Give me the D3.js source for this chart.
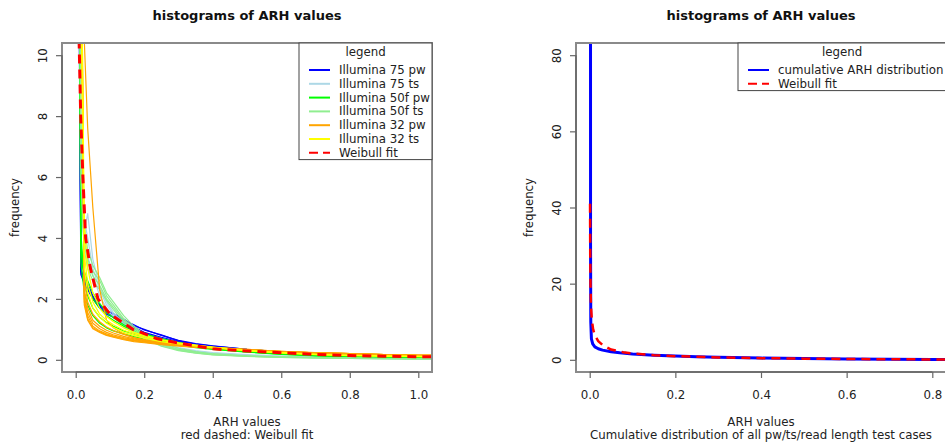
<!DOCTYPE html>
<html>
<head>
<meta charset="utf-8">
<script src="https://cdn.jsdelivr.net/npm/d3@7"></script>
<style>
  body { margin: 0; background: #fff; }
  svg { display: block; font-family: 'DejaVu Sans', sans-serif; }
</style>
</head>
<body>
<svg></svg>
<script>
'use strict';

const svgWidth = 945;
const svgHeight = 446;

// ---- data ----
// shared x positions (bin mids) for the histogram curves, left panel
const binX = [0.005, 0.015, 0.025, 0.035, 0.05, 0.07, 0.09, 0.11, 0.14, 0.17, 0.2,
  0.25, 0.3, 0.35, 0.4, 0.5, 0.6, 0.7, 0.8, 0.9, 1.0, 1.06];

const illumina75pw = [
  [24, 3.0, 2.6, 2.4, 2.05, 1.8, 1.6, 1.5, 1.3, 1.15, 0.98, 0.82, 0.62, 0.52, 0.45, 0.34, 0.26, 0.2, 0.16, 0.13, 0.11, 0.1],
  [20, 2.8, 2.5, 2.3, 2.0, 1.7, 1.5, 1.4, 1.22, 1.08, 0.9, 0.74, 0.6, 0.5, 0.42, 0.32, 0.24, 0.18, 0.14, 0.12, 0.1, 0.09],
  [26, 3.4, 2.8, 2.5, 2.1, 1.75, 1.55, 1.42, 1.2, 1.02, 0.88, 0.7, 0.57, 0.47, 0.4, 0.3, 0.22, 0.17, 0.13, 0.11, 0.09, 0.08],
  [22, 2.9, 2.55, 2.35, 2.02, 1.78, 1.62, 1.52, 1.34, 1.12, 1.0, 0.8, 0.64, 0.53, 0.46, 0.34, 0.26, 0.2, 0.16, 0.13, 0.11, 0.1]
];
const illumina75ts = [
  [22, 6.5, 4.6, 4.0, 3.0, 2.3, 1.8, 1.5, 1.15, 0.9, 0.72, 0.5, 0.36, 0.28, 0.22, 0.15, 0.11, 0.08, 0.06, 0.05, 0.04, 0.04],
  [25, 5.5, 4.2, 4.8, 3.3, 2.4, 1.9, 1.55, 1.2, 0.95, 0.78, 0.55, 0.4, 0.3, 0.24, 0.17, 0.12, 0.09, 0.07, 0.05, 0.05, 0.04],
  [18, 5.0, 3.8, 3.4, 2.8, 2.1, 1.7, 1.4, 1.1, 0.85, 0.68, 0.46, 0.33, 0.26, 0.2, 0.14, 0.1, 0.07, 0.05, 0.04, 0.04, 0.03]
];
const illumina50fpw = [
  [30, 3.6, 2.7, 2.4, 2.0, 1.7, 1.45, 1.3, 1.1, 0.95, 0.82, 0.66, 0.55, 0.46, 0.38, 0.28, 0.2, 0.15, 0.12, 0.1, 0.08, 0.07],
  [28, 4.2, 2.5, 2.1, 1.7, 1.4, 1.22, 1.1, 0.95, 0.85, 0.75, 0.62, 0.52, 0.43, 0.36, 0.26, 0.19, 0.14, 0.11, 0.09, 0.07, 0.06],
  [32, 3.2, 2.2, 1.8, 1.45, 1.2, 1.05, 0.95, 0.85, 0.76, 0.68, 0.58, 0.48, 0.4, 0.34, 0.25, 0.18, 0.13, 0.1, 0.08, 0.06, 0.05],
  [29, 3.8, 2.9, 2.6, 2.2, 1.85, 1.55, 1.38, 1.15, 1.0, 0.86, 0.7, 0.57, 0.47, 0.39, 0.29, 0.21, 0.16, 0.12, 0.1, 0.08, 0.07]
];
const illumina50fts = [
  [30, 7.0, 4.0, 3.3, 2.9, 2.6, 2.1, 1.8, 1.35, 1.05, 0.8, 0.52, 0.34, 0.25, 0.18, 0.12, 0.09, 0.07, 0.05, 0.04, 0.03, 0.03],
  [26, 6.0, 3.6, 3.0, 2.6, 2.3, 1.95, 1.65, 1.25, 0.95, 0.7, 0.45, 0.3, 0.22, 0.16, 0.11, 0.08, 0.06, 0.05, 0.04, 0.03, 0.03],
  [34, 8.0, 4.4, 3.6, 3.1, 2.7, 2.2, 1.9, 1.45, 1.1, 0.85, 0.56, 0.38, 0.27, 0.2, 0.13, 0.1, 0.07, 0.06, 0.05, 0.04, 0.03],
  [28, 6.5, 3.8, 3.2, 2.75, 2.45, 2.0, 1.72, 1.3, 1.0, 0.75, 0.5, 0.32, 0.23, 0.17, 0.12, 0.08, 0.06, 0.05, 0.04, 0.03, 0.03]
];
const illumina32pw = [
  [30, 16, 2.0, 1.45, 1.1, 0.95, 0.85, 0.78, 0.7, 0.64, 0.6, 0.53, 0.48, 0.43, 0.4, 0.33, 0.27, 0.23, 0.2, 0.17, 0.15, 0.14],
  [28, 14, 1.8, 1.3, 1.02, 0.9, 0.8, 0.74, 0.66, 0.6, 0.56, 0.5, 0.45, 0.41, 0.38, 0.32, 0.26, 0.22, 0.19, 0.16, 0.14, 0.13],
  [32, 17, 2.3, 1.7, 1.3, 1.1, 0.97, 0.88, 0.77, 0.69, 0.63, 0.55, 0.49, 0.44, 0.41, 0.34, 0.28, 0.24, 0.2, 0.17, 0.15, 0.14],
  [26, 15, 2.6, 1.9, 1.5, 1.25, 1.08, 0.96, 0.83, 0.73, 0.66, 0.57, 0.5, 0.45, 0.41, 0.34, 0.28, 0.23, 0.2, 0.17, 0.15, 0.14],
  [29, 15, 1.9, 1.35, 1.05, 0.92, 0.82, 0.76, 0.68, 0.62, 0.58, 0.52, 0.47, 0.42, 0.39, 0.33, 0.27, 0.23, 0.2, 0.17, 0.15, 0.14],
  [31, 16, 2.1, 1.55, 1.2, 1.02, 0.9, 0.82, 0.73, 0.66, 0.61, 0.54, 0.48, 0.43, 0.4, 0.33, 0.27, 0.23, 0.2, 0.17, 0.15, 0.14],
  [30, 14, 10.5, 7.6, 5.0, 2.3, 1.3, 1.05, 0.85, 0.72, 0.64, 0.55, 0.49, 0.44, 0.4, 0.33, 0.27, 0.23, 0.2, 0.17, 0.15, 0.14]
];
const illumina32ts = [
  [30, 14, 3.5, 2.5, 1.9, 1.5, 1.3, 1.15, 0.97, 0.85, 0.76, 0.64, 0.55, 0.48, 0.41, 0.3, 0.23, 0.18, 0.15, 0.12, 0.11, 0.1],
  [28, 15, 4.5, 3.0, 2.2, 1.7, 1.42, 1.25, 1.05, 0.9, 0.8, 0.66, 0.56, 0.48, 0.42, 0.31, 0.24, 0.18, 0.15, 0.13, 0.11, 0.1],
  [32, 13, 3.0, 2.2, 1.7, 1.4, 1.2, 1.06, 0.9, 0.8, 0.71, 0.6, 0.52, 0.46, 0.4, 0.3, 0.23, 0.17, 0.14, 0.12, 0.1, 0.09]
];

// red dashed weibull fit, left panel
const weibullX = [0.008, 0.0146, 0.021, 0.029, 0.043, 0.065, 0.1, 0.167, 0.236, 0.3, 0.4, 0.5, 0.6, 0.7, 0.8, 0.9, 1.0, 1.06];
const weibullY = [11.5, 8, 6, 4, 3, 2, 1.5, 1.0, 0.7, 0.55, 0.36, 0.29, 0.23, 0.18, 0.14, 0.12, 0.1, 0.095];

// right panel
const cumX = [0.0015, 0.002, 0.0025, 0.004, 0.007, 0.012, 0.02, 0.03, 0.05, 0.07, 0.1, 0.15, 0.2, 0.25,
  0.3, 0.4, 0.5, 0.6, 0.7, 0.8, 0.85];
const cumY = [300, 30, 10, 5.5, 4.2, 3.4, 2.9, 2.55, 2.1, 1.84, 1.55, 1.23, 1.0, 0.8,
  0.65, 0.45, 0.32, 0.22, 0.15, 0.1, 0.08];
const fitX = [0.0008, 0.0012, 0.002, 0.003, 0.005, 0.008, 0.012, 0.02, 0.031, 0.05, 0.078, 0.1, 0.15, 0.2, 0.3,
  0.4, 0.5, 0.6, 0.7, 0.8, 0.85];
const fitY = [41, 28, 19, 14, 10.5, 8, 6.4, 4.9, 3.8, 2.7, 2.0, 1.65, 1.22, 0.96, 0.63,
  0.44, 0.31, 0.22, 0.15, 0.1, 0.09];

const leftXTicks = [0, 0.2, 0.4, 0.6, 0.8, 1.0];
const leftYTicks = [0, 2, 4, 6, 8, 10];
const rightXTicks = [0, 0.2, 0.4, 0.6, 0.8];
const rightYTicks = [0, 20, 40, 60, 80];

const groups = [
  { name: 'Illumina 75 pw', color: '#0000ff', curves: illumina75pw },
  { name: 'Illumina 75 ts', color: '#add8e6', curves: illumina75ts },
  { name: 'Illumina 50f pw', color: '#00ff00', curves: illumina50fpw },
  { name: 'Illumina 50f ts', color: '#90ee90', curves: illumina50fts },
  { name: 'Illumina 32 pw', color: '#ffa500', curves: illumina32pw },
  { name: 'Illumina 32 ts', color: '#ffff00', curves: illumina32ts }
];

const fontSize = 11.8;

const svg = d3.select('svg')
  .attr('width', svgWidth)
  .attr('height', svgHeight);

const defs = svg.append('defs');

function panel(opts) {
  let { x0, x1, y0, y1, xDomain, yDomain, xTicks, yTicks, id } = opts;

  let x = d3.scaleLinear().domain(xDomain).range([x0, x1]);
  let y = d3.scaleLinear().domain(yDomain).range([y1, y0]);

  defs.append('clipPath')
    .attr('id', id)
    .append('rect')
    .attr('x', x0).attr('y', y0)
    .attr('width', x1 - x0).attr('height', y1 - y0);

  let g = svg.append('g');
  let plotG = g.append('g').attr('clip-path', `url(#${id})`);

  // box
  g.append('rect')
    .attr('x', x0).attr('y', y0)
    .attr('width', x1 - x0).attr('height', y1 - y0)
    .attr('fill', 'none')
    .attr('stroke', '#8a8a8a')
    .attr('stroke-width', 2);

  let xAxis = g.append('g')
    .attr('transform', `translate(0,${y1})`)
    .call(d3.axisBottom(x).tickValues(xTicks).tickFormat(d3.format('.1f')).tickSize(6).tickPadding(13));
  xAxis.select('.domain')
    .attr('d', `M${x(xTicks[0])},0H${x(xTicks[xTicks.length - 1])}`);

  let yAxis = g.append('g')
    .attr('transform', `translate(${x0},0)`)
    .call(d3.axisLeft(y).tickValues(yTicks).tickSize(6));
  yAxis.select('.domain')
    .attr('d', `M0,${y(yTicks[0])}V${y(yTicks[yTicks.length - 1])}`);
  yAxis.selectAll('.tick text')
    .attr('x', -19)
    .attr('dy', null)
    .attr('text-anchor', 'middle')
    .attr('dominant-baseline', 'middle')
    .attr('transform', 'rotate(-90, -19, 0)');

  g.selectAll('.domain').attr('stroke', '#666').attr('stroke-width', 1.5);
  g.selectAll('.tick line').attr('stroke', '#666').attr('stroke-width', 1.2);
  g.selectAll('.tick text')
    .attr('font-family', 'DejaVu Sans, sans-serif')
    .attr('font-size', fontSize)
    .attr('fill', '#222');

  // titles
  let cx = (x0 + x1) / 2;
  g.append('text')
    .attr('x', cx).attr('y', 20)
    .attr('text-anchor', 'middle')
    .attr('font-weight', 'bold')
    .attr('font-size', 13)
    .attr('fill', '#111')
    .text('histograms of ARH values');
  g.append('text')
    .attr('x', cx).attr('y', 425.5)
    .attr('text-anchor', 'middle')
    .attr('font-size', fontSize)
    .attr('fill', '#222')
    .text('ARH values');
  g.append('text')
    .attr('x', cx).attr('y', 439)
    .attr('text-anchor', 'middle')
    .attr('font-size', fontSize)
    .attr('fill', '#222')
    .text(opts.sub);
  g.append('text')
    .attr('transform', `translate(${x0 - 47},${(y0 + y1) / 2}) rotate(-90)`)
    .attr('text-anchor', 'middle')
    .attr('dominant-baseline', 'middle')
    .attr('font-size', fontSize)
    .attr('fill', '#222')
    .text('frequency');

  return { x, y, g, plotG };
}

function drawLegend(g, bx0, bx1, by0, items) {
  let rowH = 13.8;
  let by1 = by0 + 22 + rowH * items.length - 2;
  g.append('rect')
    .attr('x', bx0).attr('y', by0)
    .attr('width', bx1 - bx0).attr('height', by1 - by0)
    .attr('fill', '#fff')
    .attr('stroke', '#444')
    .attr('stroke-width', 1);
  g.append('text')
    .attr('x', (bx0 + bx1) / 2).attr('y', by0 + 13)
    .attr('text-anchor', 'middle')
    .attr('font-size', fontSize)
    .attr('fill', '#222')
    .text('legend');
  items.forEach((it, i) => {
    let ry = by0 + 27 + i * rowH;
    g.append('line')
      .attr('x1', bx0 + 10).attr('x2', bx0 + 31)
      .attr('y1', ry).attr('y2', ry)
      .attr('stroke', it.color)
      .attr('stroke-width', 2)
      .attr('stroke-dasharray', it.dash ? '9,5' : null);
    g.append('text')
      .attr('x', bx0 + 40).attr('y', ry)
      .attr('dominant-baseline', 'central')
      .attr('font-size', fontSize)
      .attr('fill', '#222')
      .text(it.name);
  });
}

// ---- left panel ----
let left = panel({
  id: 'clipL', x0: 62, x1: 432, y0: 43, y1: 372,
  xDomain: [-0.04, 1.04], yDomain: [-0.4, 10.4],
  xTicks: leftXTicks, yTicks: leftYTicks,
  sub: 'red dashed: Weibull fit'
});

let lineL = d3.line()
  .x(d => left.x(d[0]))
  .y(d => left.y(d[1]));

groups.forEach(gr => {
  left.plotG.selectAll(null)
    .data(gr.curves)
    .join('path')
    .attr('d', c => lineL(c.map((v, i) => [binX[i], v])))
    .attr('fill', 'none')
    .attr('stroke', gr.color)
    .attr('stroke-width', 1.2)
    .attr('stroke-linejoin', 'round');
});

left.plotG.append('path')
  .attr('d', lineL(weibullX.map((v, i) => [v, weibullY[i]])))
  .attr('fill', 'none')
  .attr('stroke', '#ff0000')
  .attr('stroke-width', 3)
  .attr('stroke-dasharray', '9,6');

drawLegend(left.g, 299, 432, 43, [
  ...groups,
  { name: 'Weibull fit', color: '#ff0000', dash: true }
]);

// ---- right panel ----
let right = panel({
  id: 'clipR', x0: 576, x1: 946, y0: 43, y1: 372,
  xDomain: [-0.032, 0.832], yDomain: [-3.2, 83.2],
  xTicks: rightXTicks, yTicks: rightYTicks,
  sub: 'Cumulative distribution of all pw/ts/read length test cases'
});

let lineR = d3.line()
  .x(d => right.x(d[0]))
  .y(d => right.y(d[1]));

right.plotG.append('path')
  .attr('d', lineR(cumX.map((v, i) => [v, cumY[i]])))
  .attr('fill', 'none')
  .attr('stroke', '#0000ff')
  .attr('stroke-width', 3)
  .attr('stroke-linejoin', 'round');

right.plotG.append('path')
  .attr('d', lineR(fitX.map((v, i) => [v, fitY[i]])))
  .attr('fill', 'none')
  .attr('stroke', '#ff0000')
  .attr('stroke-width', 2.5)
  .attr('stroke-dasharray', '9,6');

drawLegend(right.g, 738, 946, 43, [
  { name: 'cumulative ARH distribution', color: '#0000ff' },
  { name: 'Weibull fit', color: '#ff0000', dash: true }
]);
</script>
</body>
</html>
